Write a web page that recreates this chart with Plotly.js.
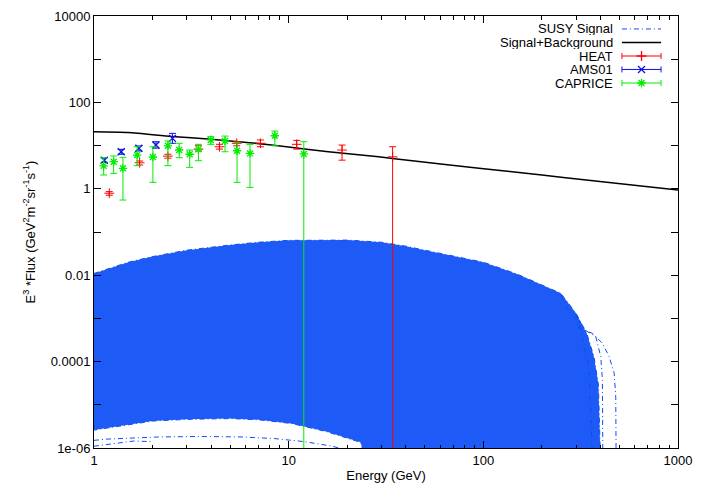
<!DOCTYPE html>
<html>
<head>
<meta charset="utf-8">
<script src="https://cdn.plot.ly/plotly-3.0.1.min.js"></script>
<style>
  html, body { margin: 0; padding: 0; background: #ffffff; }
  #chart { width: 701px; height: 491px; }
</style>
</head>
<body>
<div id="chart"></div>
<script>
// ---------------- data ----------------
// SUSY signal band: upper envelope (left -> right)
const susyTopEnergy = [1, 1.5, 2, 3, 5, 7, 10, 15, 20, 30, 40, 50, 70, 100, 150, 200, 250, 300, 340, 370, 390, 400];
const susyTopFlux   = [0.011, 0.02, 0.027, 0.038, 0.05, 0.058, 0.064, 0.066, 0.065, 0.058, 0.047, 0.038, 0.028, 0.02, 0.0105, 0.006, 0.0038, 0.0013, 4.5e-4, 1.3e-4, 3e-5, 5e-7];
// SUSY signal band: lower envelope (right -> left)
const susyLowEnergy = [400, 25, 23.4, 15.6, 10.3, 7, 5, 3, 2, 1.5, 1.2, 1];
const susyLowFlux   = [5e-7, 5e-7, 1.35e-6, 2.4e-6, 3.7e-6, 4.5e-6, 4.8e-6, 4.6e-6, 4.2e-6, 3.5e-6, 3e-6, 2.6e-6];

// individual SUSY curves visible outside the dense band
const susyLowA_E = [1, 1.14, 2.15, 3.5, 5.75, 8.5, 12.1, 16.7, 20];
const susyLowA_F = [1.5e-6, 1.6e-6, 1.8e-6, 1.85e-6, 1.8e-6, 1.65e-6, 1.4e-6, 1.1e-6, 0.9e-6];
const susyLowB_E = [1, 1.3, 1.6, 2];
const susyLowB_F = [1.1e-6, 1.3e-6, 1.45e-6, 1.4e-6];
const susyTail1_E = [300, 311, 364, 409, 443, 470, 479, 481];
const susyTail1_F = [1.2e-3, 5.9e-4, 4.5e-4, 2.65e-4, 1.3e-4, 5.4e-5, 1.5e-5, 5e-7];
const susyTail2_E = [310, 336, 378, 401, 409, 411];
const susyTail2_F = [9e-4, 5.2e-4, 3.8e-4, 1.3e-4, 3.7e-5, 5e-7];
const susyTail3_E = [250, 265, 311, 350, 364];
const susyTail3_F = [3.5e-3, 1.9e-3, 7.8e-4, 6.4e-5, 5e-7];

// Signal + Background
const sbEnergy = [1, 1.5, 2.5, 4, 6.3, 10, 16, 29, 42, 95, 200, 311, 1000];
const sbFlux   = [21, 20.2, 16.3, 14, 11.7, 9.3, 7.2, 5.5, 4.5, 3.0, 2.1, 1.66, 0.94];

// HEAT
const heatE    = [1.198, 1.715, 2.397, 3.44, 4.41, 5.41, 7.16, 11.0, 18.8, 34.2];
const heatFlux = [0.79, 4.0, 5.7, 8.3, 9.4, 11.3, 11.3, 10.7, 7.9, 5.5];
const heatHigh = [0.86, 4.4, 6.3, 9.9, 10.7, 12.3, 13.5, 13.2, 10.3, 9.4];
const heatLow  = [0.71, 3.55, 5.1, 7.5, 8.3, 9.9, 9.4, 8.3, 4.6, 0];

// AMS01
const amsE    = [1.129, 1.38, 1.70, 2.08, 2.53];
const amsFlux = [4.6, 7.2, 8.7, 10.3, 14.7];
const amsHigh = [5.25, 8.2, 9.8, 12.3, 19.2];
const amsLow  = [4.1, 6.3, 7.5, 8.7, 11.3];

// CAPRICE
const capE    = [1.121, 1.262, 1.408, 1.667, 2.007, 2.397, 2.74, 3.10, 3.44, 3.98, 4.71, 5.43, 6.33, 8.49, 11.96];
const capFlux = [3.4, 4.24, 2.98, 6.05, 5.44, 9.9, 7.9, 6.3, 8.2, 13.5, 12.8, 7.6, 6.6, 16.9, 6.4];
const capHigh = [5.25, 5.75, 5.35, 9.4, 9.4, 12.8, 11.3, 7.9, 10.7, 16.1, 16.6, 11.9, 10.7, 21.7, 12.3];
const capLow  = [2.09, 2.28, 0.55, 3.43, 1.41, 3.43, 5.25, 3.14, 4.47, 10.7, 7.2, 1.41, 1.08, 9.9, 0];

// axis tick labels
const xTickVals = [1, 10, 100, 1000];
const xTickText = ['1', '10', '100', '1000'];
const xMinorVals = [2,3,4,5,6,7,8,9,20,30,40,50,60,70,80,90,200,300,400,500,600,700,800,900];
const yTickVals = [1e-6, 1e-4, 1e-2, 1, 100, 10000];
const yTickText = ['1e-06', '0.0001', '0.01', '1', '100', '10000'];
const yMinorVals = [1e-5, 1e-3, 1e-1, 10, 1000];

const legendNames = ['SUSY Signal', 'Signal+Background', 'HEAT', 'AMS01', 'CAPRICE'];

// ---------------- styles ----------------
const SUSY = 'rgb(12,78,245)';
const RED = '#ff0000', BLUE = '#1010ee', GREEN = '#00ee00';
const DASHDOT = '5px,3px,1px,3px';
const FONT = 'Liberation Sans, Arial, Helvetica, sans-serif';

function errs(y, hi, lo) {
  return {
    type: 'data', symmetric: false,
    array: y.map((v, i) => hi[i] - v),
    arrayminus: y.map((v, i) => v - lo[i]),
    thickness: 1, width: 3.5
  };
}

const traces = [];
// dense SUSY band
traces.push({
  x: susyTopEnergy.concat(susyLowEnergy),
  y: susyTopFlux.concat(susyLowFlux),
  mode: 'lines', fill: 'toself', fillcolor: 'rgb(30,90,245)',
  line: {color: SUSY, width: 1, dash: DASHDOT},
  hoverinfo: 'skip', showlegend: false
});
[[susyLowA_E, susyLowA_F], [susyLowB_E, susyLowB_F],
 [susyTail1_E, susyTail1_F], [susyTail2_E, susyTail2_F], [susyTail3_E, susyTail3_F]].forEach(c => {
  traces.push({x: c[0], y: c[1], mode: 'lines', line: {color: SUSY, width: 1, dash: DASHDOT},
    hoverinfo: 'skip', showlegend: false});
});
// signal + background
traces.push({x: sbEnergy, y: sbFlux, mode: 'lines', line: {color: '#000000', width: 1.5, shape: 'spline', smoothing: 0.6},
  showlegend: false});
// data sets
traces.push({x: heatE, y: heatFlux, mode: 'markers',
  marker: {symbol: 'cross-thin', size: 7, color: RED, line: {color: RED, width: 1}},
  error_y: Object.assign(errs(heatFlux, heatHigh, heatLow), {color: RED}), showlegend: false});
traces.push({x: amsE, y: amsFlux, mode: 'markers',
  marker: {symbol: 'x-thin', size: 7, color: BLUE, line: {color: BLUE, width: 1.4}},
  error_y: Object.assign(errs(amsFlux, amsHigh, amsLow), {color: BLUE}), showlegend: false});
traces.push({x: capE, y: capFlux, mode: 'markers',
  marker: {symbol: 'asterisk', size: 7, color: GREEN, line: {color: GREEN, width: 1.3}},
  error_y: Object.assign(errs(capFlux, capHigh, capLow), {color: GREEN}), showlegend: false});

// ---------------- gnuplot-style key (paper-like overlay axes) ----------------
const keyTextX = 0.891, keyL = 0.904, keyR = 0.971, keyMid = 0.9375;
const keyRows = [0.970, 0.9387, 0.9074, 0.8762, 0.8449];
traces.push({x: [keyL, keyR], y: [keyRows[0], keyRows[0]], xaxis: 'x2', yaxis: 'y2', mode: 'lines',
  line: {color: SUSY, width: 1, dash: DASHDOT}, hoverinfo: 'skip', showlegend: false});
traces.push({x: [keyL, keyR], y: [keyRows[1], keyRows[1]], xaxis: 'x2', yaxis: 'y2', mode: 'lines',
  line: {color: '#000000', width: 1.5}, hoverinfo: 'skip', showlegend: false});
const keySets = [[RED, 'cross-thin'], [BLUE, 'x-thin'], [GREEN, 'asterisk']];
keySets.forEach((s, i) => {
  traces.push({x: [keyMid], y: [keyRows[i + 2]], xaxis: 'x2', yaxis: 'y2', mode: 'markers',
    marker: {symbol: s[1], size: 7, color: s[0], line: {color: s[0], width: 1.3}},
    error_x: {type: 'constant', value: (keyR - keyL) / 2, color: s[0], thickness: 1, width: 3},
    hoverinfo: 'skip', showlegend: false});
});

const annotations = legendNames.map((n, i) => ({
  xref: 'paper', yref: 'paper', x: keyTextX, y: keyRows[i], text: n,
  xanchor: 'right', yanchor: 'middle', showarrow: false, height: 13, borderpad: 0,
  font: {family: FONT, size: 13, color: '#000'}
}));

const axisCommon = {
  type: 'log', showline: true, linecolor: '#000', linewidth: 1, mirror: 'allticks',
  ticks: 'inside', tickcolor: '#000', tickwidth: 1, showgrid: false, zeroline: false,
  tickfont: {family: FONT, size: 13, color: '#000'}, tickmode: 'array'
};

const layout = {
  width: 701, height: 491,
  margin: {l: 94, r: 23, t: 16, b: 43, pad: 0},
  paper_bgcolor: '#fff', plot_bgcolor: '#fff',
  showlegend: false,
  font: {family: FONT, size: 13, color: '#000'},
  xaxis: Object.assign({}, axisCommon, {
    range: [0, 3], tickvals: xTickVals, ticktext: xTickText, ticklen: 7,
    minor: {tickmode: 'array', tickvals: xMinorVals, ticks: 'inside', ticklen: 3.5, tickcolor: '#000', tickwidth: 1, showgrid: false},
    title: {text: 'Energy (GeV)', font: {family: FONT, size: 13, color: '#000'}, standoff: 4}
  }),
  yaxis: Object.assign({}, axisCommon, {
    range: [-6, 4], tickvals: yTickVals, ticktext: yTickText, ticklen: 7,
    minor: {tickmode: 'array', tickvals: yMinorVals, ticks: 'inside', ticklen: 7, tickcolor: '#000', tickwidth: 1, showgrid: false},
    title: {text: 'E<sup>3</sup> *Flux (GeV<sup>2</sup>m<sup>-2</sup>sr<sup>-1</sup>s<sup>-1</sup>)',
      font: {family: FONT, size: 13, color: '#000'}, standoff: 12}
  }),
  xaxis2: {overlaying: 'x', range: [0, 1], visible: false, fixedrange: true},
  yaxis2: {overlaying: 'y', range: [0, 1], visible: false, fixedrange: true},
  annotations: annotations
};

Plotly.newPlot('chart', traces, layout, {staticPlot: true, displayModeBar: false});
</script>
</body>
</html>
